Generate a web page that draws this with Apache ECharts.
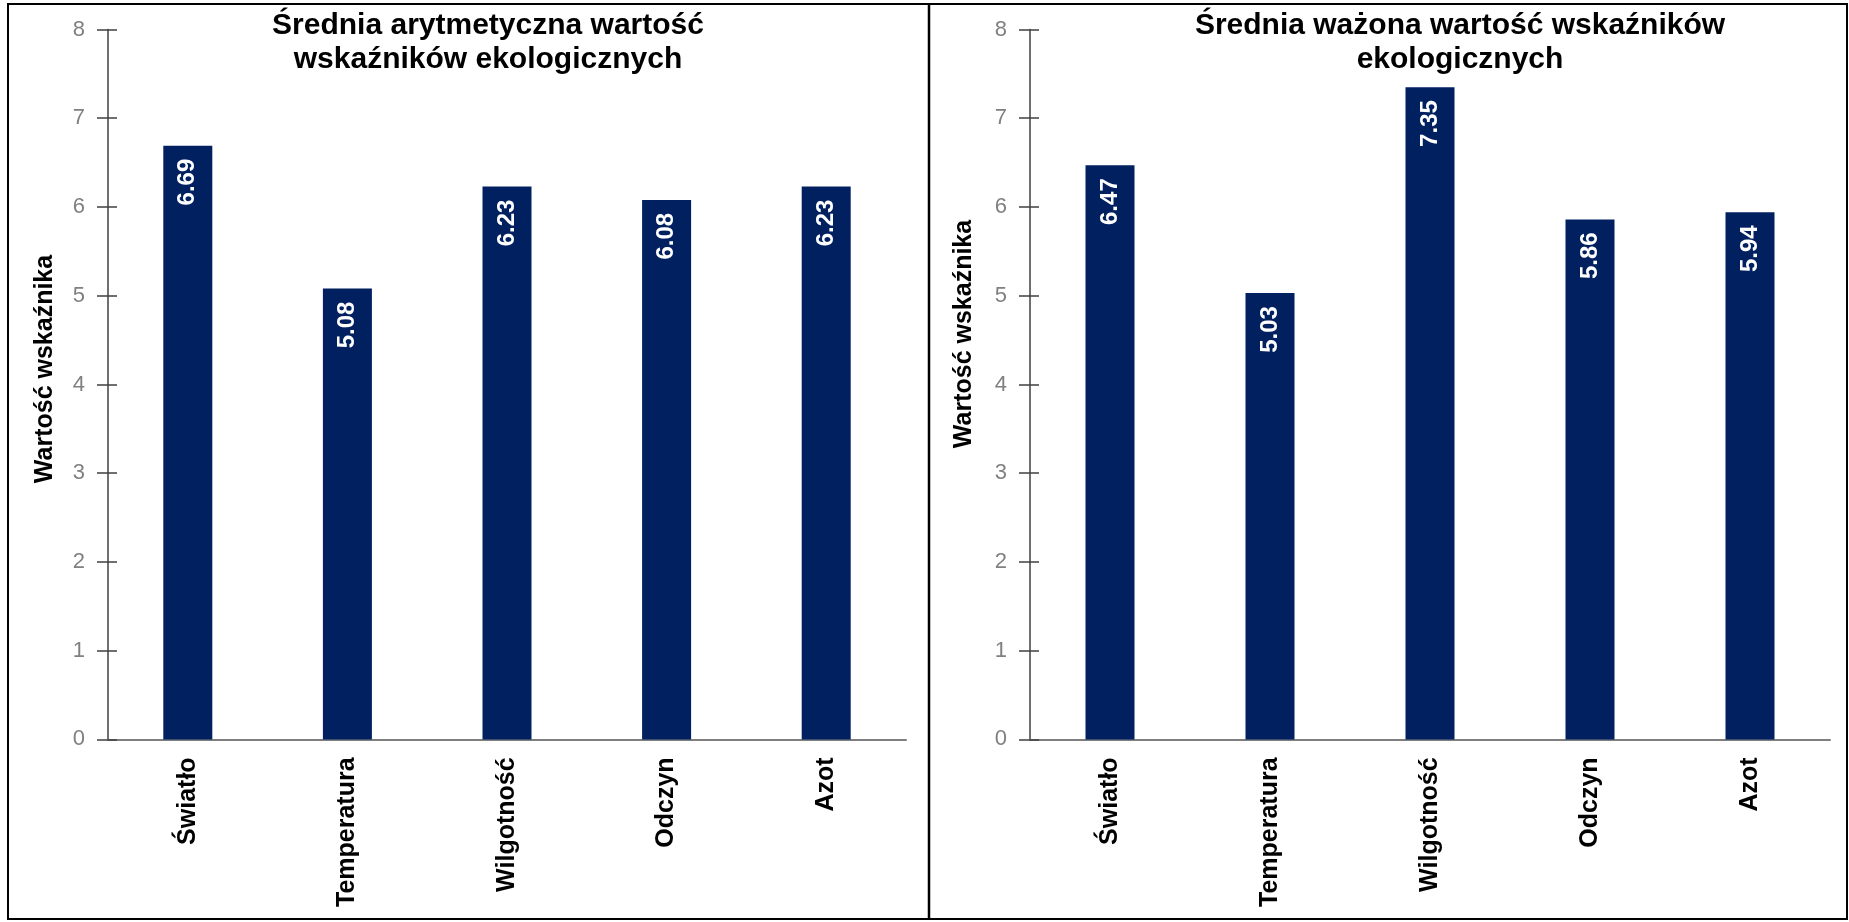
<!DOCTYPE html>
<html lang="pl">
<head>
<meta charset="utf-8">
<title>Wskaźniki ekologiczne</title>
<script src="https://cdn.jsdelivr.net/npm/echarts@6/dist/echarts.min.js"></script>
<style>
  html, body { margin: 0; padding: 0; background: #fff; }
  #chart { width: 1849px; height: 922px; }
</style>
</head>
<body>
<div id="chart"></div>
<script>
// Ecological indicator categories
const categories = ['Światło', 'Temperatura', 'Wilgotność', 'Odczyn', 'Azot'];
// Arithmetic mean of the indicators
const arithmeticMean = [6.69, 5.08, 6.23, 6.08, 6.23];
// Weighted mean of the indicators
const weightedMean = [6.47, 5.03, 7.35, 5.86, 5.94];
// Y axis tick range
const yTicks = { min: 0, max: 8, step: 1 };

const titles = [
  'Średnia arytmetyczna wartość\nwskaźników ekologicznych',
  'Średnia ważona wartość wskaźników\nekologicznych'
];
const yName = 'Wartość wskaźnika';

const FONT = '"Liberation Sans", Arial, Helvetica, sans-serif';
const BAR = '#002060';
const AXIS_DARK = '#404040';

const grids = [
  { left: 108, right: 943, top: 29.5, bottom: 182.6 },
  { left: 1030, right: 19, top: 29.5, bottom: 182.6 }
];

function yAxisMain(i) {
  return {
    type: 'value', gridIndex: i,
    min: yTicks.min, max: yTicks.max, interval: yTicks.step,
    axisLine: { show: true, lineStyle: { color: AXIS_DARK, width: 1.5 } },
    axisTick: { show: true, length: 11, lineStyle: { color: AXIS_DARK, width: 1.5 } },
    axisLabel: { color: '#808080', fontSize: 22, margin: 23, fontFamily: FONT },
    splitLine: { show: false }
  };
}
// companion axis that draws the inner half of the crossing tick marks
function yAxisInner(i) {
  return {
    type: 'value', gridIndex: i, position: 'left',
    min: yTicks.min, max: yTicks.max, interval: yTicks.step,
    axisLine: { show: false },
    axisTick: { show: true, inside: true, length: 9, lineStyle: { color: AXIS_DARK, width: 1.5 } },
    axisLabel: { show: false },
    splitLine: { show: false }
  };
}
function xAxis(i) {
  return {
    type: 'category', gridIndex: i, data: categories,
    axisLine: { show: true, lineStyle: { color: '#7f7f7f', width: 2 } },
    axisTick: { show: false },
    axisLabel: {
      interval: 0, rotate: 90, margin: 18,
      fontSize: 25, fontWeight: 'bold', color: '#000', fontFamily: FONT
    }
  };
}
function barSeries(i, data) {
  return {
    type: 'bar', xAxisIndex: i, yAxisIndex: i * 2, data: data,
    barWidth: 49,
    itemStyle: { color: BAR },
    label: {
      show: true, position: 'insideTop', rotate: 90,
      align: 'right', verticalAlign: 'middle', distance: 13,
      color: '#fff', fontWeight: 'bold', fontSize: 24, fontFamily: FONT,
      formatter: p => p.value.toFixed(2)
    }
  };
}

function titleText(x, y, text) {
  return {
    type: 'text', x: x, y: y, z: 10,
    style: {
      text: text, fill: '#000',
      font: 'bold 30px ' + FONT,
      align: 'center', verticalAlign: 'top',
      textAlign: 'center', textVerticalAlign: 'top',
      lineHeight: 34
    }
  };
}
function axisNameText(x, y) {
  return {
    type: 'text', x: x, y: y, rotation: Math.PI / 2, z: 10,
    style: {
      text: yName, fill: '#000',
      font: 'bold 25px ' + FONT,
      align: 'center', verticalAlign: 'middle',
      textAlign: 'center', textVerticalAlign: 'middle'
    }
  };
}

const chart = echarts.init(document.getElementById('chart'), null, { renderer: 'canvas' });
chart.setOption({
  backgroundColor: '#fff',
  animation: false,
  grid: grids,
  xAxis: [xAxis(0), xAxis(1)],
  yAxis: [yAxisMain(0), yAxisInner(0), yAxisMain(1), yAxisInner(1)],
  series: [barSeries(0, arithmeticMean), barSeries(1, weightedMean)],
  graphic: [
    { type: 'rect', shape: { x: 8, y: 4, width: 1839, height: 915 },
      style: { fill: 'none', stroke: '#000', lineWidth: 2 }, z: 20 },
    { type: 'line', shape: { x1: 929, y1: 4, x2: 929, y2: 919 },
      style: { stroke: '#000', lineWidth: 2.5 }, z: 20 },
    titleText(488, 9, titles[0]),
    titleText(1460, 9, titles[1]),
    axisNameText(45, 369),
    axisNameText(964, 334)
  ]
});
</script>
</body>
</html>
